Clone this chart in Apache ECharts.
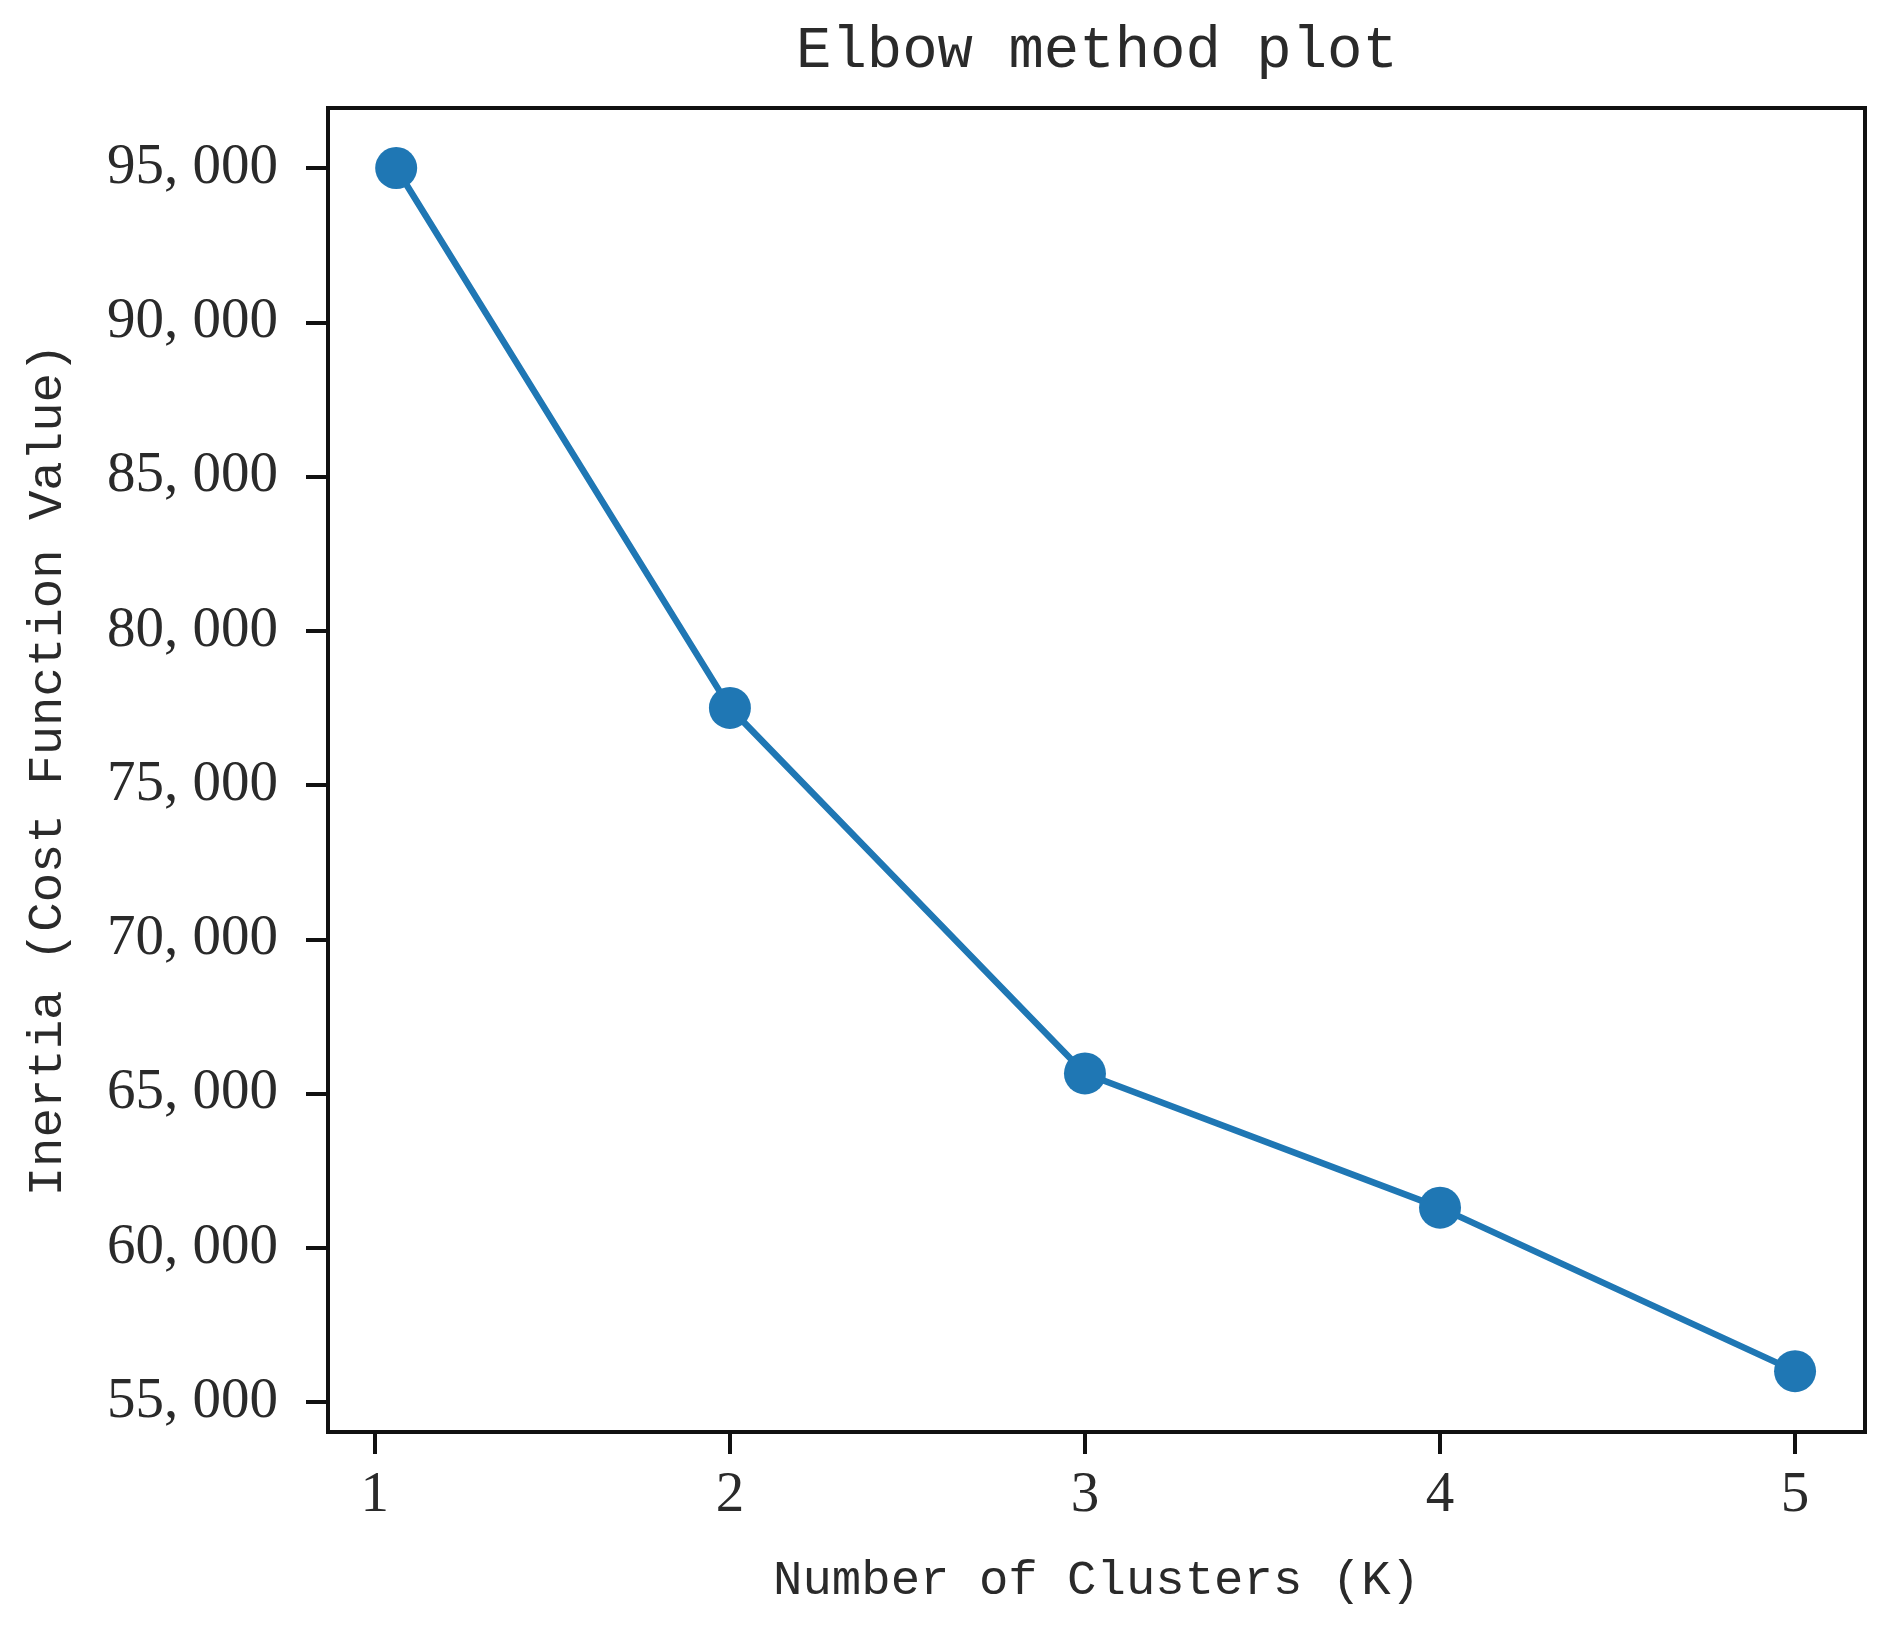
<!DOCTYPE html>
<html>
<head>
<meta charset="utf-8">
<title>Elbow method plot</title>
<script src="https://cdn.jsdelivr.net/npm/echarts@6/dist/echarts.min.js"></script>
<style>
  html, body { margin: 0; padding: 0; background: #fff; }
  #chart { width: 1888px; height: 1629px; }
</style>
</head>
<body>
<div id="chart"></div>
<script>
// number of clusters (as plotted) and the inertia
const kValues = [1.06, 2, 3, 4, 5];
const inertia = [95000, 77500, 65650, 61300, 56000];
const xTicks = [1, 2, 3, 4, 5];
const yTicks = [55000, 60000, 65000, 70000, 75000, 80000, 85000, 90000, 95000];

const chart = echarts.init(document.getElementById('chart'));

const fmtThousands = v => {
  const s = String(Math.round(v));
  return s.slice(0, -3) + ', ' + s.slice(-3);
};

const tickFont = { fontFamily: 'Liberation Serif', fontSize: 57, color: '#2a2a2a' };
const nameFont = { fontFamily: 'Liberation Mono', fontSize: 49, color: '#2a2a2a' };

const option = {
  animation: false,
  backgroundColor: '#fff',
  title: {
    text: 'Elbow method plot',
    left: 791,
    top: 17,
    textStyle: { fontFamily: 'Liberation Mono', fontSize: 59, fontWeight: 'normal', color: '#2a2a2a' }
  },
  grid: {
    left: 328, right: 23, top: 108, bottom: 197,
    show: true,
    borderColor: '#111',
    borderWidth: 4
  },
  xAxis: {
    type: 'value',
    min: 0.868,
    max: 5.197,
    name: 'Number of Clusters (K)',
    nameLocation: 'middle',
    nameGap: 125,
    nameTextStyle: nameFont,
    splitLine: { show: false },
    axisLine: { show: false },
    axisTick: { show: true, inside: false, length: 22, lineStyle: { color: '#111', width: 4 }, customValues: xTicks },
    axisLabel: Object.assign({ margin: 36, customValues: xTicks }, tickFont)
  },
  yAxis: {
    type: 'value',
    min: 54028,
    max: 96945,
    name: 'Inertia (Cost Function Value)',
    nameLocation: 'middle',
    nameGap: 255,
    nameTextStyle: nameFont,
    splitLine: { show: false },
    axisLine: { show: false },
    axisTick: { show: true, inside: false, length: 22, lineStyle: { color: '#111', width: 4 }, customValues: yTicks },
    axisLabel: Object.assign({ margin: 50, customValues: yTicks, formatter: fmtThousands }, tickFont)
  },
  series: [{
    type: 'line',
    data: kValues.map((k, i) => [k, inertia[i]]),
    symbol: 'circle',
    symbolSize: 42,
    showAllSymbol: true,
    lineStyle: { color: '#1f77b4', width: 6.5 },
    itemStyle: { color: '#1f77b4' }
  }]
};

chart.setOption(option);
</script>
</body>
</html>
